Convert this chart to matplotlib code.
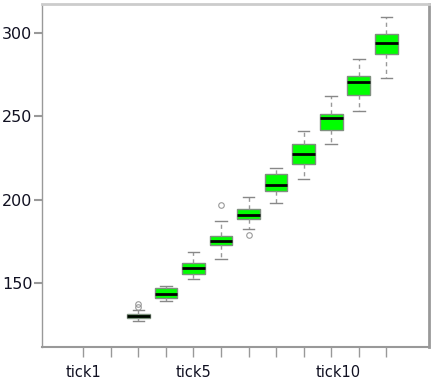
import matplotlib
matplotlib.use("Agg")
import matplotlib.pyplot as plt
from matplotlib.transforms import ScaledTranslation

# valores
posicoes = [3, 4, 5, 6, 7, 8, 9, 10, 11, 12]
medianas = [130.1, 143.5, 159.1, 175.0, 190.8, 208.8, 227.3, 248.7, 270.5, 294.0]
q1 = [128.9, 141.3, 155.3, 172.7, 188.2, 205.4, 221.5, 241.5, 262.7, 287.4]
q3 = [131.5, 146.9, 161.9, 178.0, 194.6, 215.4, 233.2, 251.1, 273.9, 299.0]
whisk_lo = [127.3, 139.3, 152.3, 164.3, 182.6, 197.8, 212.2, 233.2, 253.3, 272.9]
whisk_hi = [133.7, 148.4, 168.6, 187.0, 201.8, 218.8, 240.9, 261.9, 284.1, 309.6]
outliers = [[135.4, 137.2], [], [], [196.8], [178.8], [], [], [], [], []]

tick_pos = list(range(1, 13))
tick_labels = ["tick1", "", "", "", "tick5", "", "", "", "", "tick10", "", ""]

stats = []
for i in range(len(posicoes)):
    stats.append({
        "med": medianas[i], "q1": q1[i], "q3": q3[i],
        "whislo": whisk_lo[i], "whishi": whisk_hi[i],
        "fliers": outliers[i],
    })

fig = plt.figure(figsize=(4.41, 3.84), dpi=100)
ax = fig.add_axes([0.0952, 0.0964, 0.8776, 0.8932])

ax.bxp(
    stats, positions=posicoes, widths=0.82, patch_artist=True,
    boxprops=dict(facecolor="#00ff00", edgecolor="#7f8f7f", linewidth=1),
    medianprops=dict(color="black", linewidth=2),
    whiskerprops=dict(color="#999999", linestyle=(0, (3, 2.5)), linewidth=1),
    capprops=dict(color="#888888", linewidth=1),
    flierprops=dict(marker="o", markerfacecolor="none", markeredgecolor="#999999",
                    markersize=4, markeredgewidth=0.8),
    capwidths=0.42,
)

ax.set_xlim(-0.5, 13.55)
ax.set_ylim(111.7, 317.2)
ax.set_xticks(tick_pos)
ax.set_xticklabels(tick_labels)
ax.set_yticks([150, 200, 250, 300])

ax.tick_params(axis="x", direction="out", length=7, width=1, color="#999999",
               pad=6, labelsize=10.5, labelcolor="#111122")
ax.tick_params(axis="y", direction="out", length=6, width=1.5, color="#999999",
               pad=1, labelsize=11.5, labelcolor="#111122")

# o rotulo tick10 aparece um pouco deslocado para a direita na referencia
lbl = ax.get_xticklabels()[9]
lbl.set_transform(lbl.get_transform() + ScaledTranslation(7 / 100, 0, fig.dpi_scale_trans))

ax.spines["left"].set_color("#999999")
ax.spines["left"].set_linewidth(1)
ax.spines["bottom"].set_color("#999999")
ax.spines["bottom"].set_linewidth(1.5)
ax.spines["top"].set_color("#cccccc")
ax.spines["top"].set_linewidth(2)
ax.spines["right"].set_color("#999999")
ax.spines["right"].set_linewidth(2)

fig.savefig("out.png", dpi=100)
